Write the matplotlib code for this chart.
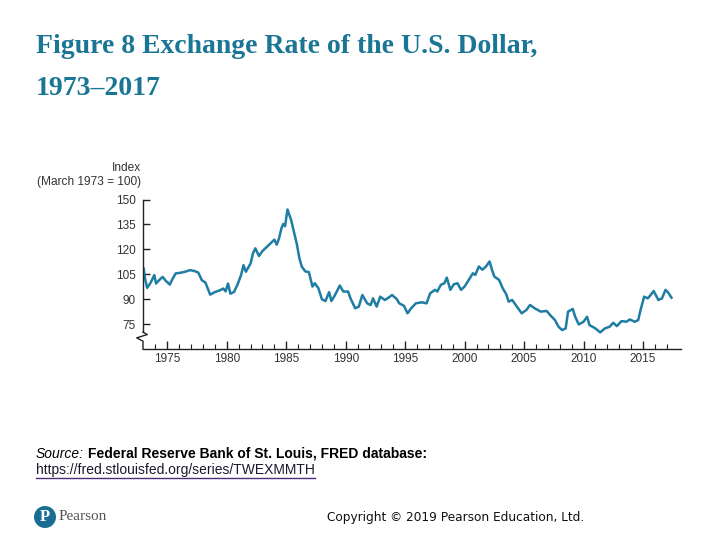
import numpy as np
import matplotlib.pyplot as plt
from matplotlib.lines import Line2D
from matplotlib.patches import Circle

# Trade-weighted exchange rate index of the U.S. dollar (March 1973 = 100)
years = [1973.0, 1973.15, 1973.3, 1973.6, 1973.9, 1974.05, 1974.3, 1974.6, 1974.9, 1975.2,
         1975.45, 1975.7, 1976.1, 1976.5, 1976.9, 1977.3, 1977.6, 1977.9, 1978.2, 1978.4,
         1978.6, 1979.0, 1979.4, 1979.7, 1979.9, 1980.1, 1980.3, 1980.6, 1980.9, 1981.2,
         1981.4, 1981.6, 1982.0, 1982.2, 1982.4, 1982.7, 1983.0, 1983.4, 1983.7, 1984.0,
         1984.2, 1984.4, 1984.6, 1984.75, 1984.9, 1985.1, 1985.4, 1985.6, 1985.9, 1986.1,
         1986.3, 1986.6, 1986.9, 1987.2, 1987.4, 1987.7, 1988.0, 1988.3, 1988.6, 1988.8,
         1989.1, 1989.5, 1989.8, 1990.2, 1990.4, 1990.8, 1991.1, 1991.4, 1991.8, 1992.1,
         1992.3, 1992.6, 1992.9, 1993.3, 1993.6, 1993.9, 1994.3, 1994.5, 1994.9, 1995.2,
         1995.5, 1995.9, 1996.4, 1996.8, 1997.1, 1997.5, 1997.7, 1998.0, 1998.3, 1998.5,
         1998.8, 1999.1, 1999.4, 1999.7, 2000.0, 2000.3, 2000.7, 2000.9, 2001.2, 2001.5,
         2001.8, 2002.1, 2002.3, 2002.5, 2002.9, 2003.2, 2003.5, 2003.7, 2004.0, 2004.4,
         2004.8, 2005.2, 2005.5, 2005.9, 2006.4, 2006.9, 2007.2, 2007.6, 2007.9, 2008.2,
         2008.5, 2008.7, 2009.1, 2009.3, 2009.6, 2010.0, 2010.3, 2010.5, 2011.0, 2011.4,
         2011.8, 2012.2, 2012.5, 2012.8, 2013.2, 2013.6, 2013.9, 2014.3, 2014.6, 2014.8,
         2015.1, 2015.4, 2015.6, 2015.9, 2016.3, 2016.6, 2016.9, 2017.1, 2017.4]
index = [108.5, 101.4, 96.8, 100.0, 104.5, 99.4, 101.4, 103.4, 100.8, 98.8,
         102.4, 105.5, 105.9, 106.5, 107.5, 106.9, 106.0, 101.4, 100.0, 96.4,
         92.7, 94.3, 95.3, 96.4, 94.7, 99.4, 93.3, 94.3, 98.8, 104.5,
         110.5, 106.5, 111.5, 117.6, 120.6, 116.0, 119.0, 121.7, 123.7, 125.8,
         122.8, 126.8, 132.9, 135.3, 133.9, 144.0, 137.9, 131.9, 122.8, 114.7,
         109.7, 106.7, 106.3, 97.6, 99.6, 96.6, 89.9, 88.9, 94.2, 88.9,
         92.5, 98.2, 94.6, 94.6, 90.5, 84.5, 85.5, 92.5, 87.5, 86.5,
         90.5, 85.5, 91.5, 89.5, 90.9, 92.5, 90.0, 87.5, 86.0, 81.5,
         84.5, 87.5, 88.1, 87.5, 93.5, 95.6, 94.6, 98.6, 99.6, 103.0,
         95.6, 99.0, 99.6, 95.6, 97.6, 101.0, 105.6, 104.6, 109.7, 107.7,
         109.7, 112.7, 107.7, 103.6, 101.6, 96.6, 93.0, 88.5, 89.5, 85.5,
         81.5, 83.5, 86.5, 84.5, 82.5, 82.9, 80.4, 77.4, 73.4, 71.4,
         72.4, 82.5, 84.1, 79.4, 74.8, 76.4, 79.4, 74.4, 72.4, 70.0,
         72.4, 73.4, 75.8, 73.8, 76.8, 76.4, 77.8, 76.4, 77.4, 83.5,
         91.5, 90.5, 92.1, 94.9, 89.5, 90.5, 95.6, 94.2, 90.9]

y_ticks = [75, 90, 105, 120, 135, 150]
x_major = [1975, 1980, 1985, 1990, 1995, 2000, 2005, 2010, 2015]
x_minor = list(range(1974, 2018))

title_color = "#1b7595"
line_color = "#1f7ca3"
text_color = "#333333"

plt.rcParams["font.family"] = ["Liberation Sans", "DejaVu Sans"]

fig = plt.figure(figsize=(7.2, 5.4), dpi=100)

fig.text(0.05, 1 - 53 / 540, "Figure 8 Exchange Rate of the U.S. Dollar,",
         family="Liberation Serif", fontweight="bold", fontsize=20, color=title_color,
         va="baseline", ha="left")
fig.text(0.05, 1 - 95 / 540, "1973\u20132017",
         family="Liberation Serif", fontweight="bold", fontsize=20, color=title_color,
         va="baseline", ha="left")

ax = fig.add_axes([143 / 720, 1 - 349 / 540, (681 - 143) / 720, (349 - 199.5) / 540])
ax.plot(years, index, color=line_color, lw=1.8)
ax.set_xlim(1972.95, 2018.2)
ax.set_ylim(60, 150)

for s in ["top", "right", "left"]:
    ax.spines[s].set_visible(False)
ax.spines["bottom"].set_color("#222222")
ax.spines["bottom"].set_linewidth(1.0)

# left axis with a break below 75
x0 = 1972.95
ax.add_line(Line2D([x0, x0], [150, 70.2], color="#222222", lw=1.0, clip_on=False))
ax.add_line(Line2D([x0, x0 + 0.36, x0 - 0.53, x0, x0], [70.2, 68.7, 66.7, 64.7, 60],
                   color="#222222", lw=1.0, clip_on=False))

ax.set_yticks(y_ticks)
ax.set_xticks(x_major)
ax.set_xticks(x_minor, minor=True)
ax.tick_params(axis="x", which="major", direction="in", length=6, width=1, color="#222222",
               labelsize=8.5, labelcolor=text_color, pad=3)
ax.tick_params(axis="x", which="minor", direction="in", length=3.5, width=0.8, color="#222222")
ax.tick_params(axis="y", direction="in", length=5, width=1, color="#222222",
               labelsize=8.5, labelcolor=text_color, pad=5)

fig.text(141 / 720, 1 - 168 / 540, "Index", fontsize=8.6, color=text_color, ha="right", va="center")
fig.text(141 / 720, 1 - 182 / 540, "(March 1973 = 100)", fontsize=8.6, color=text_color,
         ha="right", va="center")

# source note
src = fig.text(0.05, 1 - 454 / 540, "Source:", fontsize=10, style="italic", ha="left", va="center")
fig.canvas.draw()
bb = src.get_window_extent()
fig.text((bb.x1 + 4) / 720, 1 - 454 / 540, "Federal Reserve Bank of St. Louis, FRED database:",
         fontsize=10, fontweight="bold", ha="left", va="center")
link = fig.text(0.05, 1 - 470 / 540, "https://fred.stlouisfed.org/series/TWEXMMTH",
                fontsize=10, color="#1a1a2e", ha="left", va="center")
fig.canvas.draw()
lb = link.get_window_extent()
fig.add_artist(Line2D([lb.x0 / 720, lb.x1 / 720], [(lb.y0 - 1) / 540, (lb.y0 - 1) / 540],
                      color="#4b2c7f", lw=1.0))

# footer
fig.add_artist(Circle((0.45, 5.4 - 5.17), 0.11, transform=fig.dpi_scale_trans,
                      color="#1b6e93", ec="none"))
fig.text(45 / 720, 1 - 517 / 540, "P", family="Liberation Serif", fontweight="bold",
         fontsize=12, color="white", ha="center", va="center")
fig.text(59 / 720, 1 - 517 / 540, "Pearson", family="Liberation Serif", fontsize=11,
         color="#555555", ha="left", va="center")
fig.text(327 / 720, 1 - 517 / 540, "Copyright \u00a9 2019 Pearson Education, Ltd.",
         family="DejaVu Sans", fontsize=8.7, color="#111111", ha="left", va="center")

fig.savefig("out.png", dpi=100)
